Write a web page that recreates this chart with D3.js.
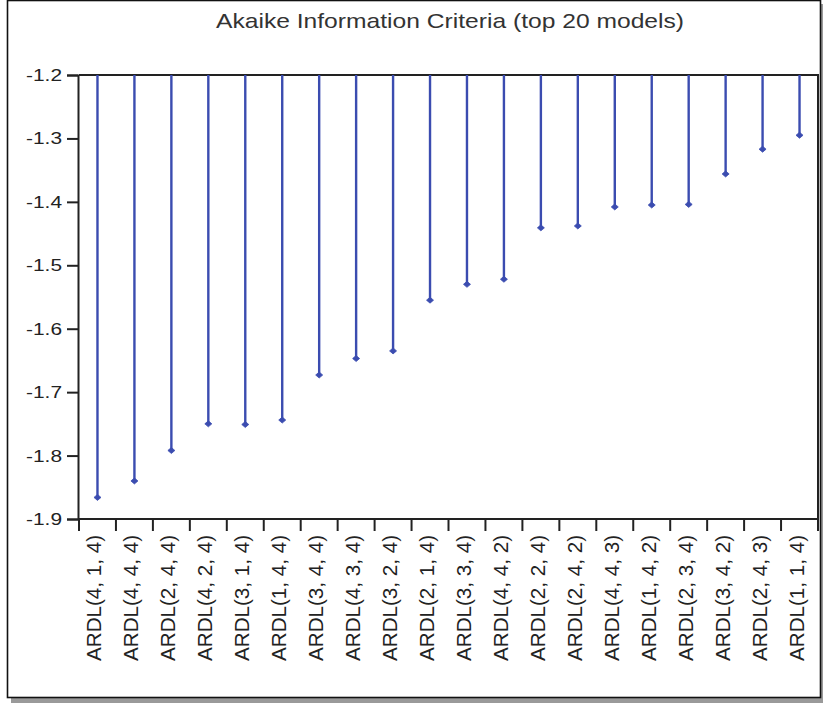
<!DOCTYPE html>
<html>
<head>
<meta charset="utf-8">
<script src="https://cdn.jsdelivr.net/npm/d3@7"></script>
<style>
  html, body { margin: 0; padding: 0; background: #fff; }
  svg { display: block; }
  text { font-family: "Liberation Sans", Arial, sans-serif; }
</style>
</head>
<body>
<svg id="chart" width="823" height="704"></svg>
<script>
const title = "Akaike Information Criteria (top 20 models)";
const categories = ["ARDL(4, 1, 4)", "ARDL(4, 4, 4)", "ARDL(2, 4, 4)", "ARDL(4, 2, 4)", "ARDL(3, 1, 4)",
  "ARDL(1, 4, 4)", "ARDL(3, 4, 4)", "ARDL(4, 3, 4)", "ARDL(3, 2, 4)", "ARDL(2, 1, 4)",
  "ARDL(3, 3, 4)", "ARDL(4, 4, 2)", "ARDL(2, 2, 4)", "ARDL(2, 4, 2)", "ARDL(4, 4, 3)",
  "ARDL(1, 4, 2)", "ARDL(2, 3, 4)", "ARDL(3, 4, 2)", "ARDL(2, 4, 3)", "ARDL(1, 1, 4)"];
const values = [-1.866, -1.840, -1.792, -1.750, -1.751, -1.744, -1.673, -1.647, -1.635, -1.555,
  -1.530, -1.522, -1.441, -1.438, -1.408, -1.405, -1.404, -1.356, -1.317, -1.295];
const yTicks = [-1.2, -1.3, -1.4, -1.5, -1.6, -1.7, -1.8, -1.9];
const yDomain = [-1.2, -1.9];

const svg = d3.select("#chart");
const plot = { left: 79, right: 818, top: 75, bottom: 519 };

// outer frame with shadow
svg.append("rect").attr("x", 11).attr("y", 4).attr("width", 812).attr("height", 699)
  .attr("fill", "#9a9a9a");
svg.append("rect").attr("x", 7.5).attr("y", 0.5).attr("width", 813).attr("height", 697)
  .attr("fill", "#fff").attr("stroke", "#111").attr("stroke-width", 1.6);

// title
svg.append("text").attr("x", 450).attr("y", 28).attr("text-anchor", "middle")
  .attr("font-size", 21).attr("fill", "#333")
  .attr("textLength", 468).attr("lengthAdjust", "spacingAndGlyphs")
  .text(title);

const x = d3.scaleBand().domain(categories).range([plot.left, plot.right]).padding(0);
const y = d3.scaleLinear().domain(yDomain).range([plot.top, plot.bottom]);

// plot frame (top and right)
svg.append("path")
  .attr("d", `M${plot.left},${plot.top}H${plot.right}V${plot.bottom}`)
  .attr("fill", "none").attr("stroke", "#222").attr("stroke-width", 2);

// y axis
const yAxis = d3.axisLeft(y).tickValues(yTicks).tickSize(11).tickPadding(5)
  .tickFormat(d => d.toFixed(1));
const gy = svg.append("g").attr("transform", `translate(${plot.left - 1},0)`).call(yAxis);
gy.select(".domain").attr("stroke", "#222").attr("stroke-width", 2);
gy.selectAll(".tick line").attr("stroke", "#222").attr("stroke-width", 2);
gy.selectAll(".tick text").attr("font-size", 17).attr("fill", "#222")
  .attr("textLength", 36).attr("lengthAdjust", "spacingAndGlyphs")
  .attr("font-family", "'Liberation Sans', Arial, sans-serif");

// x axis: ticks at band boundaries
const bounds = categories.map(c => x(c)).concat([plot.right]);
const gx = svg.append("g");
gx.append("line").attr("x1", plot.left - 1).attr("x2", plot.right + 1)
  .attr("y1", plot.bottom).attr("y2", plot.bottom)
  .attr("stroke", "#222").attr("stroke-width", 2);
gx.selectAll("line.tk").data(bounds).join("line").attr("class", "tk")
  .attr("x1", d => d).attr("x2", d => d)
  .attr("y1", plot.bottom).attr("y2", plot.bottom + 12)
  .attr("stroke", "#222").attr("stroke-width", 2);
gx.selectAll("text").data(categories).join("text")
  .attr("transform", d => `translate(${x(d) + x.bandwidth() / 2},${plot.bottom + 16}) rotate(-90)`)
  .attr("text-anchor", "end").attr("dy", "0.2em")
  .attr("font-size", 20).attr("fill", "#222")
  .attr("textLength", 126).attr("lengthAdjust", "spacingAndGlyphs")
  .text(d => d);

// stems from top baseline
const color = "#3b4cb0";
const g = svg.append("g");
g.selectAll("line.stem").data(categories).join("line").attr("class", "stem")
  .attr("x1", d => x(d) + x.bandwidth() / 2).attr("x2", d => x(d) + x.bandwidth() / 2)
  .attr("y1", y(yDomain[0])).attr("y2", (d, i) => y(values[i]))
  .attr("stroke", color).attr("stroke-width", 2.4);
g.selectAll("path.mk").data(categories).join("path").attr("class", "mk")
  .attr("transform", (d, i) => `translate(${x(d) + x.bandwidth() / 2},${y(values[i])})`)
  .attr("d", "M-3.5,0L0,-3L3.5,0L0,3Z")
  .attr("fill", color).attr("stroke", color).attr("stroke-width", 0.8);
</script>
</body>
</html>
